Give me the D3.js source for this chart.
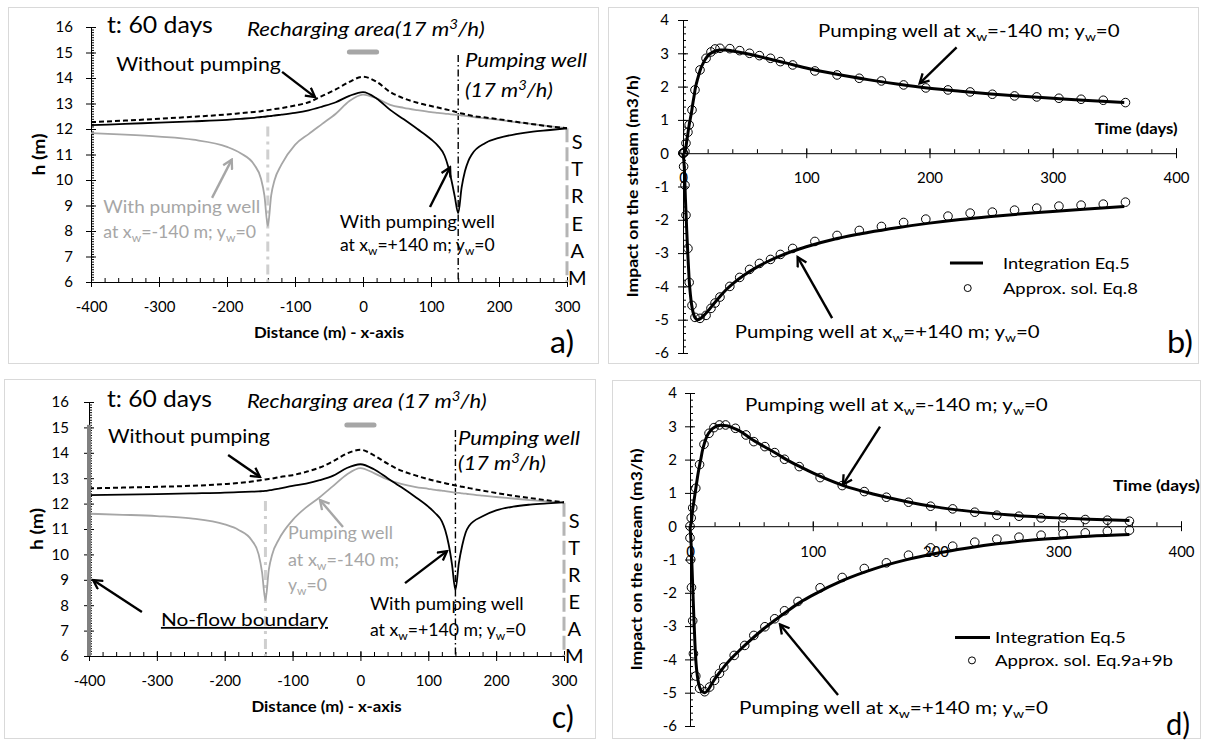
<!DOCTYPE html>
<html>
<head>
<meta charset="utf-8">
<script src="https://cdnjs.cloudflare.com/ajax/libs/d3/7.8.5/d3.min.js"></script>
<style>
body { margin: 0; background: #fff; }
</style>
</head>
<body>
<script>
// ---------- data: hydraulic head profiles (t = 60 days) ----------
var distance = [-400,-350,-300,-250,-200,-180,-160,-150,-145,-140,-135,-130,-120,-100,-80,-60,-40,-20,0,20,
                40,60,80,100,110,120,125,130,135,140,145,150,155,160,180,200,225,250,275,300];

// panel a (stream at x=300, infinite aquifer)
var headNoPumpA   = [12.27,12.33,12.4,12.48,12.57,12.62,12.67,12.7,12.72,12.74,12.76,12.78,12.82,12.92,13.05,13.3,13.55,13.85,14.05,13.85,
                     13.45,13.2,13.03,12.9,12.84,12.78,12.75,12.72,12.68,12.64,12.61,12.58,12.55,12.52,12.45,12.38,12.28,12.19,12.1,12.03];
var headPlusA     = [12.15,12.2,12.25,12.3,12.36,12.4,12.44,12.47,12.48,12.5,12.51,12.53,12.56,12.63,12.73,12.88,13.05,13.3,13.45,13.2,
                     12.75,12.38,12.0,11.6,11.35,10.95,10.55,10.0,9.35,8.7,9.7,10.35,10.75,11.0,11.45,11.65,11.8,11.9,11.96,12.03];
var headMinusA    = [11.84,11.78,11.7,11.58,11.3,11.05,10.6,10.05,9.4,8.2,9.4,10.0,10.6,11.38,11.8,12.2,12.6,13.1,13.35,13.2,
                     12.95,12.83,12.74,12.66,12.63,12.6,12.59,12.57,12.56,12.55,12.53,12.52,12.5,12.48,12.42,12.36,12.27,12.19,12.1,12.03];

// panel c (no-flow boundary at x=-400)
var headNoPumpC   = [12.6,12.63,12.66,12.7,12.77,12.81,12.87,12.91,12.93,12.95,12.97,12.99,13.04,13.12,13.25,13.42,13.67,13.97,14.12,13.9,
                     13.57,13.3,13.12,12.96,12.89,12.83,12.8,12.77,12.74,12.71,12.69,12.66,12.64,12.61,12.51,12.42,12.31,12.22,12.13,12.05];
var headPlusC     = [12.33,12.35,12.37,12.4,12.43,12.45,12.47,12.48,12.49,12.5,12.52,12.54,12.59,12.7,12.79,12.92,13.1,13.4,13.55,13.35,
                     13.0,12.65,12.28,11.88,11.63,11.3,10.95,10.4,9.6,8.6,9.65,10.35,10.85,11.12,11.5,11.73,11.88,11.96,12.01,12.05];
var headMinusC    = [11.6,11.56,11.51,11.42,11.18,10.97,10.55,10.0,9.3,8.2,9.4,10.0,10.6,11.35,11.85,12.25,12.7,13.15,13.4,13.2,
                     12.95,12.78,12.66,12.58,12.54,12.51,12.49,12.47,12.45,12.43,12.42,12.4,12.39,12.37,12.31,12.26,12.2,12.14,12.09,12.05];

// ---------- data: impact on the stream (m3/h) ----------
var timeLine = [0,1,2,3,4,5,6,7,8,9,10,12,14,17,20,25,30,35,40,50,60,70,80,90,100,125,150,175,200,225,250,275,300,325,358];

var integMinusB = [0,0.02,0.1,0.35,0.6,0.85,1.05,1.25,1.5,1.72,1.95,2.25,2.5,2.75,2.92,3.05,3.1,3.1,3.07,
                   3.0,2.92,2.83,2.74,2.65,2.56,2.37,2.21,2.07,1.95,1.86,1.78,1.71,1.65,1.59,1.52];
var integPlusB  = [0,-0.4,-1.4,-2.3,-3.1,-3.8,-4.25,-4.55,-4.75,-4.88,-4.95,-5.0,-4.97,-4.87,-4.75,-4.52,-4.3,-4.1,-3.93,
                   -3.65,-3.42,-3.23,-3.07,-2.93,-2.81,-2.56,-2.38,-2.23,-2.1,-1.99,-1.9,-1.82,-1.75,-1.68,-1.6];
var timeApproxB = [0,0.5,1.6,2.4,4,5,7.3,9.7,13.8,18.7,22.7,26,30,38,46,54,62,71,79,89,107,125,143,161,179,197,215,233,251,269,287,305,323,341,359];
var approxMinusB = [0,0,0.05,0.3,0.63,0.85,1.3,1.9,2.5,2.85,3.04,3.13,3.15,3.14,3.08,3.0,2.93,2.85,2.75,2.65,2.47,2.35,2.25,2.17,2.05,1.96,1.9,1.84,1.77,1.72,1.69,1.65,1.62,1.59,1.52];
var approxPlusB  = [0,-0.4,-0.96,-1.86,-2.86,-3.88,-4.57,-4.93,-4.96,-4.87,-4.66,-4.5,-4.32,-4.0,-3.73,-3.49,-3.31,-3.19,-3.04,-2.86,-2.65,-2.47,-2.32,-2.2,-2.08,-1.98,-1.89,-1.8,-1.77,-1.71,-1.65,-1.59,-1.56,-1.53,-1.47];

var integMinusD = [0,0.1,0.45,0.7,0.95,1.2,1.45,1.67,1.87,2.05,2.25,2.52,2.72,2.88,2.97,3.03,3.02,2.95,2.87,
                   2.62,2.4,2.19,1.97,1.78,1.6,1.22,0.96,0.75,0.58,0.46,0.37,0.3,0.25,0.21,0.17];
var integPlusD  = [0,-0.6,-1.6,-2.6,-3.5,-4.15,-4.5,-4.72,-4.85,-4.93,-4.97,-5.0,-4.95,-4.78,-4.6,-4.35,-4.12,-3.92,-3.74,
                   -3.4,-3.08,-2.8,-2.53,-2.28,-2.07,-1.62,-1.28,-1.02,-0.82,-0.66,-0.53,-0.43,-0.36,-0.3,-0.25];
var timeApproxDUp  = [0,1,2.2,4.7,7.8,11.4,15.5,19.5,24,29,37,45.6,52,61,69,77,89,106,124,142,160,178,196,214,232,250,268,286,304,322,340,358];
var approxMinusD   = [0,0.25,0.55,1.14,1.85,2.46,2.79,2.96,3.04,3.04,2.94,2.74,2.54,2.39,2.21,2.01,1.79,1.46,1.22,1.04,0.87,0.72,0.6,0.52,0.42,0.33,0.3,0.25,0.25,0.2,0.18,0.15];
var timeApproxDLow = [0,0.6,1.2,2.2,2.8,4.7,7.8,12,16,20,24,27.5,36,44.6,52,61,69,77,88,106,124,142,160,178,196,214,232,250,268,286,304,322,340,358];
var approxPlusD    = [-0.35,-1.0,-1.84,-2.84,-3.83,-4.5,-4.87,-4.97,-4.83,-4.63,-4.42,-4.23,-3.88,-3.58,-3.28,-3.02,-2.78,-2.54,-2.26,-1.85,-1.54,-1.27,-1.1,-0.87,-0.65,-0.6,-0.48,-0.39,-0.33,-0.27,-0.23,-0.2,-0.15,-0.12];

// ---------- ticks ----------
var hTicks = [6,7,8,9,10,11,12,13,14,15,16];
var distTicks = [-400,-300,-200,-100,0,100,200,300];
var impactTicks = [-6,-5,-4,-3,-2,-1,0,1,2,3,4];
var timeTicks = [0,100,200,300,400];
var streamLetters = ['S','T','R','E','A','M'];

var FONT = 'Lato, "Open Sans", sans-serif';
var GRAY = '#a6a6a6';

var svg = d3.select('body').append('svg')
    .attr('width', 1205).attr('height', 740)
    .style('font-family', FONT);

// arrow heads (open V like Excel)
var defs = svg.append('defs');
function addMarker(id, color) {
    defs.append('marker').attr('id', id)
        .attr('viewBox', '0 0 12 12').attr('refX', 10).attr('refY', 6)
        .attr('markerWidth', 12).attr('markerHeight', 12)
        .attr('markerUnits', 'userSpaceOnUse').attr('orient', 'auto')
      .append('path').attr('d', 'M1,1 L10,6 L1,11')
        .attr('fill', 'none').attr('stroke', color).attr('stroke-width', 2.3);
}
addMarker('ahBlack', '#000');
addMarker('ahGray', GRAY);

function frame(x, y, w, h) {
    svg.append('rect').attr('x', x + 0.5).attr('y', y + 0.5).attr('width', w).attr('height', h)
        .attr('fill', '#fff').attr('stroke', '#d9d9d9');
}

// text with sub/superscripts; opt.w stretches it horizontally to the width seen in the figure
function richText(g, x, y, parts, size, opt) {
    opt = opt || {};
    var t = g.append('text').attr('x', x).attr('y', y).attr('font-size', size)
        .attr('fill', opt.color || '#000');
    if (opt.italic) t.attr('font-style', 'italic');
    if (opt.bold) t.attr('font-weight', 'bold');
    if (opt.anchor) t.attr('text-anchor', opt.anchor);
    var shift = 0;
    parts.forEach(function(p) {
        var s = t.append('tspan');
        if (typeof p === 'string') {
            s.text(p);
            if (shift) s.attr('dy', -shift);
            shift = 0;
        } else {
            var d = p.sub !== undefined ? size * 0.22 : -size * 0.38;
            s.text(p.sub !== undefined ? p.sub : p.sup)
                .attr('font-size', size * 0.68).attr('dy', d - shift);
            shift = d;
        }
    });
    if (opt.w) {
        var bw = t.node().getBBox().width;
        if (bw > 0) t.attr('transform', 'translate(' + x + ',0) scale(' + (opt.w / bw) + ',1) translate(' + (-x) + ',0)');
    }
    return t;
}

function arrow(g, p1, p2, color) {
    g.append('line')
        .attr('x1', p1[0]).attr('y1', p1[1]).attr('x2', p2[0]).attr('y2', p2[1])
        .attr('stroke', color).attr('stroke-width', 2.4)
        .attr('marker-end', color === '#000' ? 'url(#ahBlack)' : 'url(#ahGray)');
}

function styleAxis(a) {
    a.attr('font-size', 15).attr('font-family', FONT);
    a.selectAll('.domain, .tick line').attr('stroke', '#000');
}

function minorAxis(g, axis, tr) {
    g.append('g').attr('transform', tr).call(axis)
        .call(function(s) { s.select('.domain').remove(); })
        .selectAll('.tick line').attr('stroke', '#000');
}

// ---------- head profile panel (a, c) ----------
function profilePanel(box, heads) {
    var x = d3.scaleLinear().domain([-400, 300]).range([box.left, box.right]);
    var y = d3.scaleLinear().domain([6, 16]).range([box.bottom, box.top]);
    var g = svg.append('g');

    // y axis: crossing major ticks, inside minors
    var ya = g.append('g').attr('transform', 'translate(' + x(-400) + ',0)')
        .call(d3.axisLeft(y).tickValues(hTicks).tickSize(5).tickSizeOuter(0)
            .tickPadding(box.yPad).tickFormat(String));
    ya.selectAll('.tick line').attr('x1', 5);
    minorAxis(g, d3.axisRight(y).tickValues(d3.range(60, 161).map(function(v) { return v / 10; }))
        .tickSize(3).tickFormat(''), 'translate(' + x(-400) + ',0)');

    var xa = g.append('g').attr('transform', 'translate(0,' + y(6) + ')')
        .call(d3.axisBottom(x).tickValues(distTicks).tickSize(5).tickSizeOuter(0)
            .tickPadding(14).tickFormat(String));
    xa.selectAll('.tick line').attr('y1', -5);
    minorAxis(g, d3.axisTop(x).tickValues(d3.range(-400, 301, 20)).tickSize(4).tickFormat(''),
        'translate(0,' + y(6) + ')');
    styleAxis(ya); styleAxis(xa);

    g.append('text').attr('x', (box.left + box.right) / 2).attr('y', y(6) + 56)
        .attr('text-anchor', 'middle').attr('font-size', 15).attr('font-weight', 'bold')
        .attr('textLength', 150).attr('lengthAdjust', 'spacingAndGlyphs')
        .text('Distance (m) - x-axis');
    g.append('text').attr('transform', 'translate(' + (box.left - 46) + ',' + ((y(6) + y(16)) / 2) + ') rotate(-90)')
        .attr('text-anchor', 'middle').attr('font-size', 17).attr('font-weight', 'bold')
        .attr('textLength', 42).attr('lengthAdjust', 'spacingAndGlyphs')
        .text('h (m)');

    // wells and stream
    g.append('line').attr('x1', x(-140)).attr('x2', x(-140)).attr('y1', y(12.1)).attr('y2', y(6))
        .attr('stroke', '#cfcfcf').attr('stroke-width', 3).attr('stroke-dasharray', '10,5,3,5');
    g.append('line').attr('x1', x(140)).attr('x2', x(140)).attr('y1', y(14.9)).attr('y2', y(6))
        .attr('stroke', '#000').attr('stroke-width', 1.4).attr('stroke-dasharray', '7,3,1.5,3');
    g.append('line').attr('x1', x(300)).attr('x2', x(300)).attr('y1', y(12.03)).attr('y2', y(6))
        .attr('stroke', '#b5b5b5').attr('stroke-width', 3).attr('stroke-dasharray', '14,5');
    g.append('line').attr('x1', x(-20)).attr('x2', x(20)).attr('y1', y(box.barH)).attr('y2', y(box.barH))
        .attr('stroke', GRAY).attr('stroke-width', 5).attr('stroke-linecap', 'round');

    var line = d3.line().x(function(d, i) { return x(distance[i]); }).y(function(d) { return y(d); })
        .curve(d3.curveMonotoneX);
    g.append('path').attr('d', line(heads.minus)).attr('fill', 'none').attr('stroke', GRAY).attr('stroke-width', 1.8);
    g.append('path').attr('d', line(heads.plus)).attr('fill', 'none').attr('stroke', '#000').attr('stroke-width', 1.8);
    g.append('path').attr('d', line(heads.none)).attr('fill', 'none').attr('stroke', '#000').attr('stroke-width', 2)
        .attr('stroke-dasharray', '5,3');

    streamLetters.forEach(function(c, i) {
        g.append('text').attr('x', x(315)).attr('y', y(box.streamTop - i * box.streamStep))
            .attr('dy', '0.35em').attr('text-anchor', 'middle').attr('font-size', 20).text(c);
    });
    return { g: g, x: x, y: y };
}

// ---------- impact panel (b, d) ----------
function impactPanel(box, s) {
    var x = d3.scaleLinear().domain([0, 400]).range([box.left, box.right]);
    var y = d3.scaleLinear().domain([-6, 4]).range([box.bottom, box.top]);
    var g = svg.append('g');

    var ya = g.append('g').attr('transform', 'translate(' + x(0) + ',0)')
        .call(d3.axisLeft(y).tickValues(impactTicks).tickSize(5).tickSizeOuter(0)
            .tickPadding(box.yPad).tickFormat(String));
    ya.selectAll('.tick line').attr('x1', 5);
    minorAxis(g, d3.axisRight(y).tickValues(d3.range(-30, 21).map(function(v) { return v / 5; }))
        .tickSize(3).tickFormat(''), 'translate(' + x(0) + ',0)');

    var xa = g.append('g').attr('transform', 'translate(0,' + y(0) + ')')
        .call(d3.axisBottom(x).tickValues(timeTicks).tickSize(5).tickSizeOuter(0)
            .tickPadding(box.xPad).tickFormat(String));
    xa.selectAll('.tick line').attr('y1', -5);
    minorAxis(g, d3.axisTop(x).tickValues(d3.range(0, 401, 20)).tickSize(4).tickFormat(''),
        'translate(0,' + y(0) + ')');
    styleAxis(ya); styleAxis(xa);

    g.append('text').attr('transform', 'translate(' + box.titleX + ',' + ((y(-6) + y(4)) / 2) + ') rotate(-90)')
        .attr('text-anchor', 'middle').attr('font-size', 15).attr('font-weight', 'bold')
        .attr('textLength', box.titleLen).attr('lengthAdjust', 'spacingAndGlyphs')
        .text('Impact on the stream  (m3/h)');

    var line = d3.line().x(function(d, i) { return x(timeLine[i]); }).y(function(d) { return y(d); })
        .curve(d3.curveMonotoneX);
    [s.lineMinus, s.linePlus].forEach(function(v) {
        g.append('path').attr('d', line(v)).attr('fill', 'none').attr('stroke', '#000').attr('stroke-width', 3);
    });
    function dots(ts, vs) {
        g.append('g').selectAll('circle').data(vs).enter().append('circle')
            .attr('cx', function(d, i) { return x(ts[i]); })
            .attr('cy', function(d) { return y(d); })
            .attr('r', 4.3).attr('fill', 'none').attr('stroke', '#000').attr('stroke-width', 1);
    }
    dots(s.tMinus, s.approxMinus);
    dots(s.tPlus, s.approxPlus);
    return { g: g, x: x, y: y };
}

// ---------- frames ----------
frame(8, 7, 590, 356);
frame(608, 7, 590, 356);
frame(4, 379, 591, 359);
frame(612, 380, 588, 358);

// ---------- panel a ----------
var A = profilePanel({ left: 91, right: 567, top: 27, bottom: 282, yPad: 13, barH: 15.02, streamTop: 11.5, streamStep: 1.07 },
    { none: headNoPumpA, plus: headPlusA, minus: headMinusA });
richText(A.g, A.x(-376.5), A.y(15.76), ['t: 60 days'], 24, { w: 106 });
richText(A.g, A.x(-170.6), A.y(15.65), ['Recharging area(17 m', { sup: '3' }, '/h)'], 19, { italic: true, w: 238 });
richText(A.g, A.x(-363), A.y(14.27), ['Without pumping'], 19, { w: 165 });
arrow(A.g, [A.x(-119), A.y(14.24)], [A.x(-70.6), A.y(13.25)], '#000');
richText(A.g, A.x(150), A.y(14.43), ['Pumping well'], 19, { italic: true, w: 122 });
richText(A.g, A.x(150), A.y(13.25), ['(17 m', { sup: '3' }, '/h)'], 19, { italic: true, w: 88 });
richText(A.g, A.x(-382), A.y(8.7), ['With pumping well'], 17, { color: GRAY, w: 157 });
richText(A.g, A.x(-382), A.y(7.73), ['at x', { sub: 'w' }, '=-140 m; y', { sub: 'w' }, '=0'], 17, { color: GRAY, w: 153 });
arrow(A.g, [A.x(-222), A.y(9.3)], [A.x(-193), A.y(10.8)], GRAY);
richText(A.g, A.x(-34), A.y(8.12), ['With pumping well'], 17, { w: 155 });
richText(A.g, A.x(-34), A.y(7.22), ['at x', { sub: 'w' }, '=+140 m; y', { sub: 'w' }, '=0'], 17, { w: 155 });
arrow(A.g, [A.x(98.5), A.y(8.94)], [A.x(128), A.y(10.5)], '#000');
richText(A.g, A.x(275), A.y(3.2), ['a)'], 30, { w: 24 });

// ---------- panel c ----------
var C = profilePanel({ left: 89, right: 564, top: 402, bottom: 656, yPad: 15, barH: 15.09, streamTop: 11.3, streamStep: 1.06 },
    { none: headNoPumpC, plus: headPlusC, minus: headMinusC });
C.g.append('line').attr('x1', C.x(-400)).attr('x2', C.x(-400)).attr('y1', C.y(15.1)).attr('y2', C.y(6))
    .attr('stroke', '#808080').attr('stroke-width', 4);
richText(C.g, C.x(-373.5), C.y(15.8), ['t: 60 days'], 24, { w: 105 });
richText(C.g, C.x(-167.2), C.y(15.76), ['Recharging area (17 m', { sup: '3' }, '/h)'], 19, { italic: true, w: 240 });
richText(C.g, C.x(-372), C.y(14.39), ['Without pumping'], 19, { w: 162 });
arrow(C.g, [C.x(-195), C.y(13.91)], [C.x(-148), C.y(13.05)], '#000');
richText(C.g, C.x(143.8), C.y(14.3), ['Pumping well'], 19, { italic: true, w: 122 });
richText(C.g, C.x(143.8), C.y(13.32), ['(17 m', { sup: '3' }, '/h)'], 19, { italic: true, w: 88 });
richText(C.g, C.x(-106.7), C.y(10.6), ['Pumping well'], 17, { color: GRAY, w: 105 });
richText(C.g, C.x(-106.7), C.y(9.54), ['at x', { sub: 'w' }, '=-140 m;'], 17, { color: GRAY, w: 111 });
richText(C.g, C.x(-106.7), C.y(8.56), ['y', { sub: 'w' }, '=0'], 17, { color: GRAY, w: 39 });
arrow(C.g, [C.x(-25.7), C.y(11.08)], [C.x(-59.6), C.y(12.14)], GRAY);
richText(C.g, C.x(-294), C.y(7.18), ['No-flow boundary'], 18, { w: 168 }).attr('text-decoration', 'underline');
arrow(C.g, [C.x(-322), C.y(7.73)], [C.x(-394), C.y(8.99)], '#000');
richText(C.g, C.x(14), C.y(7.81), ['With pumping well'], 17, { w: 154 });
richText(C.g, C.x(14), C.y(6.79), ['at x', { sub: 'w' }, '=+140 m; y', { sub: 'w' }, '=0'], 17, { w: 156 });
arrow(C.g, [C.x(65.7), C.y(8.87)], [C.x(127.6), C.y(10.13)], '#000');
richText(C.g, C.x(282), C.y(3.17), ['c)'], 30, { w: 22 });

// ---------- panel b ----------
var B = impactPanel({ left: 683, right: 1176, top: 20, bottom: 353, yPad: 9, xPad: 14, titleX: 638, titleLen: 222 },
    { lineMinus: integMinusB, linePlus: integPlusB, tMinus: timeApproxB, approxMinus: approxMinusB,
      tPlus: timeApproxB, approxPlus: approxPlusB });
richText(B.g, B.x(109.5), B.y(3.48), ['Pumping well at x', { sub: 'w' }, '=-140  m; y', { sub: 'w' }, '=0'], 18, { w: 302 });
arrow(B.g, [B.x(222), B.y(3.18)], [B.x(192), B.y(2.1)], '#000');
richText(B.g, B.x(334), B.y(0.57), ['Time (days)'], 15, { bold: true, w: 83 });
richText(B.g, B.x(42), B.y(-5.56), ['Pumping well at x', { sub: 'w' }, '=+140  m; y', { sub: 'w' }, '=0'], 18, { w: 305 });
arrow(B.g, [B.x(121), B.y(-4.95)], [B.x(93), B.y(-3.12)], '#000');
B.g.append('line').attr('x1', B.x(216.6)).attr('x2', B.x(243.4)).attr('y1', B.y(-3.3)).attr('y2', B.y(-3.3))
    .attr('stroke', '#000').attr('stroke-width', 3);
richText(B.g, B.x(259.6), B.y(-3.48), ['Integration Eq.5'], 16, { w: 127 });
B.g.append('circle').attr('cx', B.x(231)).attr('cy', B.y(-4.05)).attr('r', 3.5)
    .attr('fill', 'none').attr('stroke', '#000');
richText(B.g, B.x(259.6), B.y(-4.23), ['Approx. sol. Eq.8'], 16, { w: 135 });
richText(B.g, B.x(392.7), B.y(-6.0), ['b)'], 30, { w: 26 });

// ---------- panel d ----------
var D = impactPanel({ left: 690, right: 1181, top: 393, bottom: 726, yPad: 8, xPad: 15, titleX: 642, titleLen: 222 },
    { lineMinus: integMinusD, linePlus: integPlusD, tMinus: timeApproxDUp, approxMinus: approxMinusD,
      tPlus: timeApproxDLow, approxPlus: approxPlusD });
richText(D.g, D.x(44.8), D.y(3.46), ['Pumping well at x', { sub: 'w' }, '=-140 m; y', { sub: 'w' }, '=0'], 18, { w: 303 });
arrow(D.g, [D.x(154.8), D.y(2.99)], [D.x(124.6), D.y(1.25)], '#000');
richText(D.g, D.x(344.6), D.y(1.07), ['Time (days)'], 15, { bold: true, w: 87 });
richText(D.g, D.x(40), D.y(-5.64), ['Pumping well at x', { sub: 'w' }, '=+140  m; y', { sub: 'w' }, '=0'], 18, { w: 309 });
arrow(D.g, [D.x(120.6), D.y(-5.07)], [D.x(73.3), D.y(-2.95)], '#000');
D.g.append('line').attr('x1', D.x(215.9)).attr('x2', D.x(244.4)).attr('y1', D.y(-3.34)).attr('y2', D.y(-3.34))
    .attr('stroke', '#000').attr('stroke-width', 3);
richText(D.g, D.x(248.5), D.y(-3.52), ['Integration Eq.5'], 16, { w: 131 });
D.g.append('circle').attr('cx', D.x(229.7)).attr('cy', D.y(-4.03)).attr('r', 3.5)
    .attr('fill', 'none').attr('stroke', '#000');
richText(D.g, D.x(248.5), D.y(-4.21), ['Approx. sol. Eq.9a+9b'], 16, { w: 178 });
richText(D.g, D.x(387.8), D.y(-6.27), ['d)'], 30, { w: 24 });
</script>
</body>
</html>
